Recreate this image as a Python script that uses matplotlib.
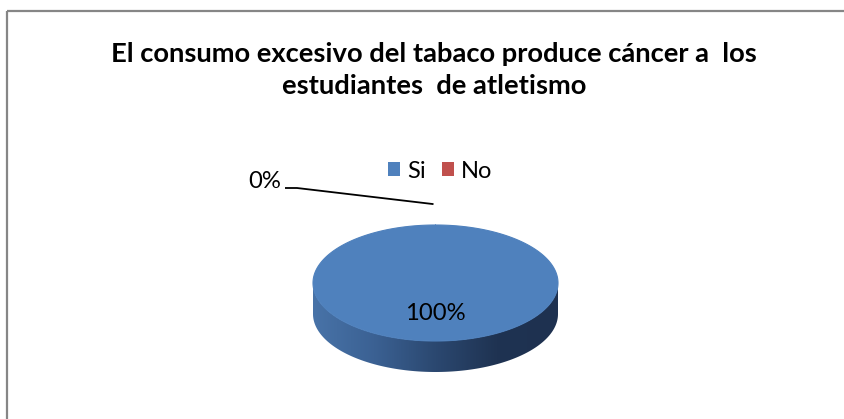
import numpy as np
import matplotlib
matplotlib.use("Agg")
import matplotlib.pyplot as plt
from matplotlib.patches import Polygon, Rectangle, Patch
from matplotlib.colors import LinearSegmentedColormap

# Survey answers (percent)
categories = ["Si", "No"]
values = [100, 0]
colors = ["#4F81BD", "#C0504D"]
title = "El consumo excesivo del tabaco produce cáncer a  los\nestudiantes  de atletismo"

FONT = "Lato"
W, H = 845, 419
fig = plt.figure(figsize=(W / 100, H / 100), dpi=100)
ax = fig.add_axes([0, 0, 1, 1])
ax.set_xlim(0, W)
ax.set_ylim(H, 0)
ax.axis("off")

# chart frame
ax.add_patch(Rectangle((7, 11), W + 20, H + 20, fill=False,
                       edgecolor="#868686", lw=1.6))

ax.text(434, 70, title, ha="center", va="center", fontsize=19.7,
        fontweight="bold", family=FONT, linespacing=1.38, color="black")

# 3-D pie geometry (pixel units)
cx, cy, rx, ry, depth = 435.5, 283, 122.5, 58, 31

total = float(sum(values))
fracs = [v / total for v in values]
starts = np.cumsum([0] + fracs[:-1]) * 360.0


def pt(angle_deg, r=1.0, dy=0.0):
    a = np.radians(angle_deg)
    return cx + r * rx * np.sin(a), cy - r * ry * np.cos(a) + dy


# side wall (front half of the disc) with horizontal shading
t = np.linspace(0, np.pi, 200)
front = np.column_stack([cx + rx * np.cos(t), cy + ry * np.sin(t)])
back = np.column_stack([cx + rx * np.cos(t[::-1]), cy + depth + ry * np.sin(t[::-1])])
side = Polygon(np.vstack([front, back]), closed=True, facecolor="none",
               edgecolor="none")
ax.add_patch(side)
shade = LinearSegmentedColormap.from_list(
    "side", ["#4873A8", "#3B6193", "#2B4870", "#1F3352", "#1E3150"])
grad = np.linspace(0, 1, 256).reshape(1, -1)
im = ax.imshow(grad, cmap=shade, aspect="auto",
               extent=[cx - rx, cx + rx, cy + ry + depth + 1, cy - 1],
               interpolation="bilinear", zorder=1)
im.set_clip_path(side)
ax.set_xlim(0, W)
ax.set_ylim(H, 0)

# top faces of the slices
for f, s, c in zip(fracs, starts, colors):
    if f <= 0:
        continue
    ang = np.linspace(s, s + f * 360.0, 400)
    xs, ys = pt(ang)
    poly = np.column_stack([np.r_[cx, xs, cx], np.r_[cy, ys, cy]])
    ax.add_patch(Polygon(poly, closed=True, facecolor=c, edgecolor=c,
                         lw=0.8, zorder=2))

# data labels
for v, f, s in zip(values, fracs, starts):
    mid = s + f * 180.0
    if f > 0:
        x, y = pt(mid, 0.5)
        ax.text(x, y + 1, f"{v}%", ha="center", va="center", fontsize=17.2,
                family=FONT, color="black", zorder=3)
    else:
        ex, ey = pt(mid, 1.36)
        ax.plot([ex - 2, 297, 285], [ey, 188, 188], color="black", lw=1.3,
                solid_capstyle="butt", zorder=3)
        ax.text(281, 181, f"{v}%", ha="right", va="center", fontsize=17.2,
                family=FONT, color="black", zorder=3)

handles = [Patch(facecolor=c, edgecolor="none") for c in colors]
ax.legend(handles, categories, loc="center", bbox_to_anchor=(440 / W, 1 - 171 / H),
          ncol=2, frameon=False, prop={"family": FONT, "size": 17},
          handlelength=0.52, handleheight=0.52, handletextpad=0.28,
          columnspacing=0.7, borderaxespad=0)

fig.savefig("out.png", dpi=100)
